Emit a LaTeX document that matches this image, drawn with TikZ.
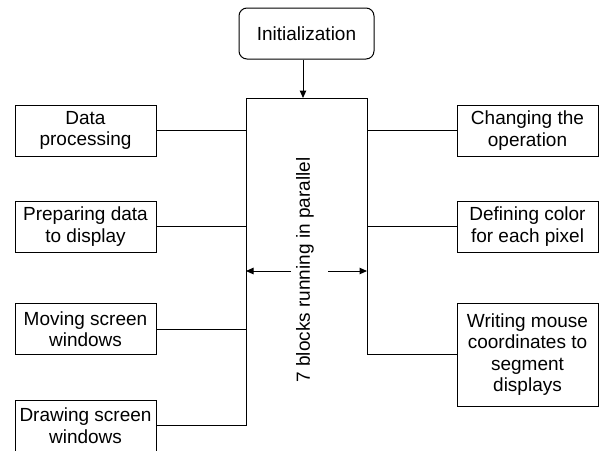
\documentclass[tikz,border=0pt]{standalone}
\usepackage{fontspec}
\setmainfont{Liberation Sans}
\usetikzlibrary{arrows.meta}
\begin{document}
\begin{tikzpicture}[x=1pt,y=-1pt,
  line width=1pt,
  txt/.style={font=\fontsize{19}{21.5}\selectfont, align=center},
  block/.style={txt, draw, inner sep=0pt, minimum width=141pt, minimum height=51pt},
  tall/.style={block, minimum height=103pt},
  startbox/.style={txt, draw, rounded corners=8pt, inner sep=0pt, minimum width=135pt, minimum height=51pt},
  flow/.style={-{Triangle[length=7.5pt,width=6.5pt]}}]
\clip (0,0) rectangle (599,450);
\useasboundingbox (0,0) rectangle (599,450);

% start box
\node[startbox] (init) at (306.5,33.5) {Initialization};

% corners of the central frame
\coordinate (tl) at (246,98);
\coordinate (tr) at (367,98);
\coordinate (drop) at (303,98);

% left column
\node[block] (dp) at (85.5,130.5) {Data\\processing};
\node[block] (pd) at (85.5,226.5) {Preparing data\\to display};
\node[block] (ms) at (85.5,329) {Moving screen\\windows};
\node[block] (ds) at (85.5,425.5) {Drawing screen\\windows};

% right column
\node[block] (co) at (527.5,130.5) {Changing the\\operation};
\node[block] (dc) at (527.5,226.5) {Defining color\\for each pixel};
\node[tall] (wm) at (527.5,354.5) {Writing mouse\\coordinates to\\segment\\displays};

% central frame, open at the bottom
\draw (ds.east) -| (tl) -- (tr) |- (wm.west);

% links to the frame
\draw (dp.east) -- (dp.east -| tl);
\draw (pd.east) -- (pd.east -| tl);
\draw (ms.east) -- (ms.east -| tl);
\draw (co.west) -- (co.west -| tr);
\draw (dc.west) -- (dc.west -| tr);

% arrow from the start box
\draw[flow] (drop |- init.south) -- (drop);

% rotated label and side arrows
\node[txt, rotate=90] (par) at (305,270) {7 blocks running in parallel};
\coordinate (al) at (291,271);
\coordinate (ar) at (328,271);
\draw[flow] (al) -- (al -| tl);
\draw[flow] (ar) -- (ar -| tr);
\end{tikzpicture}
\end{document}
